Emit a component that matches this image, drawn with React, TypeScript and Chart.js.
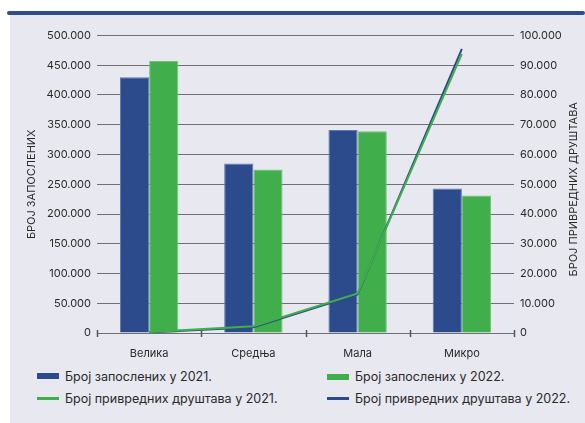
import React, { useEffect, useRef } from "react";
import { Chart, registerables } from "chart.js";

Chart.register(...registerables);

const categories = ["Велика", "Средња", "Мала", "Микро"];
const employees2021 = [430000, 285000, 341000, 243000];
const employees2022 = [457000, 275000, 339000, 231000];
const companies2021 = [300, 2300, 13300, 93800];
const companies2022 = [200, 1900, 13000, 95500];

const leftTicksMax = 500000;
const leftStep = 50000;
const rightTicksMax = 100000;
const rightStep = 10000;

const leftTitle = "БРОЈ ЗАПОСЛЕНИХ";
const rightTitle = "БРОЈ ПРИВРЕДНИХ ДРУШТАВА";

const BLUE = "#2b4b8c";
const GREEN = "#40ae4b";
const FONT = "Inter, 'Noto Sans', sans-serif";
const TEXT = "#2a2a2a";

const fmt = (v: number) => String(v).replace(/\B(?=(\d{3})+(?!\d))/g, ".");

const xTicksPlugin = {
  id: "xBoundaryTicks",
  afterDraw(chart: any) {
    const { ctx, chartArea } = chart;
    const n = categories.length;
    const w = (chartArea.right - chartArea.left) / n;
    ctx.save();
    ctx.strokeStyle = "#555";
    ctx.lineWidth = 1.5;
    for (let i = 0; i <= n; i++) {
      const x = Math.round(chartArea.left + i * w) + 0.5;
      ctx.beginPath();
      ctx.moveTo(x, chartArea.bottom - 3);
      ctx.lineTo(x, chartArea.bottom + 4);
      ctx.stroke();
    }
    // right axis title, reading bottom-to-top
    ctx.fillStyle = TEXT;
    ctx.font = `11px ${FONT}`;
    ctx.textAlign = "center";
    ctx.textBaseline = "middle";
    ctx.translate(574, (chartArea.top + chartArea.bottom) / 2 + 5);
    ctx.rotate(-Math.PI / 2);
    ctx.fillText(rightTitle, 0, 0);
    ctx.restore();
  },
};

export default function App() {
  const ref = useRef<HTMLCanvasElement | null>(null);
  useEffect(() => {
    if (!ref.current) return;
    const chart = new Chart(ref.current, {
      type: "bar",
      data: {
        labels: categories,
        datasets: [
          {
            type: "line",
            label: "Број привредних друштава у 2021.",
            data: companies2021,
            borderColor: GREEN,
            backgroundColor: GREEN,
            borderWidth: 2,
            pointRadius: 0,
            tension: 0,
            yAxisID: "y1",
            order: 0,
          } as any,
          {
            type: "line",
            label: "Број привредних друштава у 2022.",
            data: companies2022,
            borderColor: BLUE,
            backgroundColor: BLUE,
            borderWidth: 2,
            pointRadius: 0,
            tension: 0,
            yAxisID: "y1",
            order: 1,
          } as any,
          {
            type: "bar",
            label: "Број запослених у 2021.",
            data: employees2021,
            backgroundColor: BLUE,
            borderColor: "#5d79b0",
            borderWidth: 1,
            barPercentage: 1,
            categoryPercentage: 0.56,
            yAxisID: "y",
            order: 2,
          },
          {
            type: "bar",
            label: "Број запослених у 2022.",
            data: employees2022,
            backgroundColor: GREEN,
            borderColor: "#72c277",
            borderWidth: 1,
            barPercentage: 1,
            categoryPercentage: 0.56,
            yAxisID: "y",
            order: 3,
          },
        ],
      },
      options: {
        animation: false,
        responsive: false,
        maintainAspectRatio: false,
        layout: { padding: { top: 35.5, left: 0, right: 0, bottom: 0 } },
        plugins: { legend: { display: false }, tooltip: { enabled: false } },
        scales: {
          x: {
            offset: true,
            grid: { display: false },
            border: { display: false },
            ticks: { color: TEXT, font: { family: FONT, size: 11 }, padding: 6 },
            afterFit: (s: any) => { s.height = 32; },
          },
          y: {
            position: "left",
            min: 0,
            max: leftTicksMax,
            ticks: {
              stepSize: leftStep,
              color: TEXT,
              font: { family: FONT, size: 11 },
              padding: 6,
              callback: (v: any) => fmt(Number(v)),
            },
            grid: { color: "#707070", lineWidth: 1, drawTicks: false },
            border: { display: false },
            title: {
              display: true,
              text: leftTitle,
              color: TEXT,
              font: { family: FONT, size: 11 },
              padding: { top: 25, bottom: 0 },
            },
            afterFit: (s: any) => { s.width = 97; },
          },
          y1: {
            position: "right",
            min: 0,
            max: rightTicksMax,
            ticks: {
              stepSize: rightStep,
              color: TEXT,
              font: { family: FONT, size: 11 },
              padding: 6,
              callback: (v: any) => fmt(Number(v)),
            },
            grid: { drawOnChartArea: false, drawTicks: false },
            border: { display: false },
            title: { display: false },
            afterFit: (s: any) => { s.width = 71; },
          },
        },
      } as any,
      plugins: [xTicksPlugin],
    });
    return () => chart.destroy();
  }, []);

  const legendItems = [
    { label: "Број запослених у 2021.", color: BLUE, kind: "box", x: 37, y: 376 },
    { label: "Број запослених у 2022.", color: GREEN, kind: "box", x: 327, y: 376.5 },
    { label: "Број привредних друштава у 2021.", color: GREEN, kind: "line", x: 37, y: 398.5 },
    { label: "Број привредних друштава у 2022.", color: BLUE, kind: "line", x: 327, y: 398.5 },
  ];

  return (
    <div style={{ position: "fixed", left: 0, top: 0, width: 585, height: 423, background: "#fff", overflow: "hidden" }}>
      <div style={{ position: "absolute", left: 10, top: 15, width: 575, height: 408, background: "#e8e8f0" }} />
      <div style={{ position: "absolute", left: 7, top: 11, width: 578, height: 4, background: "#2c4d90", borderRadius: 2 }} />
      <canvas ref={ref} width={585} height={365} style={{ position: "absolute", left: 0, top: 0, width: 585, height: 365 }} />
      {legendItems.map((it, i) => (
        <div key={i} style={{ position: "absolute", left: it.x, top: it.y - 9, height: 18, display: "flex", alignItems: "center", fontFamily: FONT, fontSize: 12.5, color: TEXT, whiteSpace: "nowrap" }}>
          <div style={{ width: 22, height: it.kind === "box" ? 6 : 2.5, background: it.color, marginRight: 6 }} />
          <span>{it.label}</span>
        </div>
      ))}
    </div>
  );
}
